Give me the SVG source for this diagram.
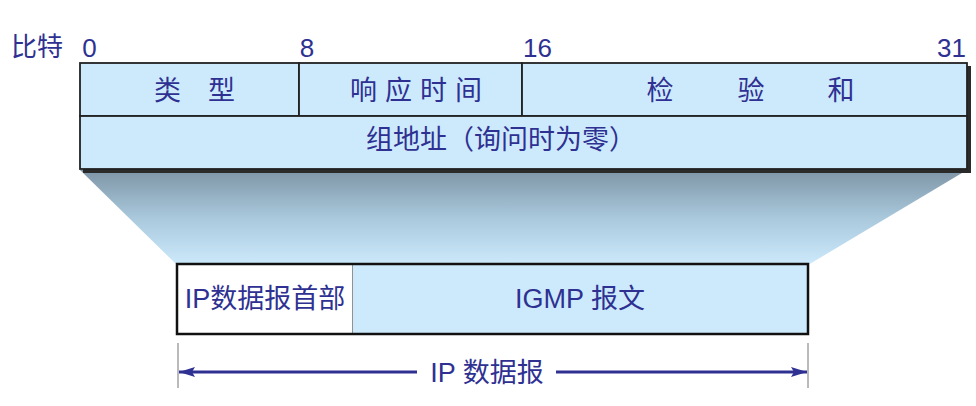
<svg xmlns="http://www.w3.org/2000/svg" width="976" height="406" viewBox="0 0 976 406">
<defs>
<linearGradient id="fan" x1="0" y1="0" x2="0" y2="1">
<stop offset="0" stop-color="#7e95a6"/>
<stop offset="0.5" stop-color="#a9c8dc"/>
<stop offset="1" stop-color="#cdeafc"/>
</linearGradient>
<marker id="ah" viewBox="0 0 16 10" refX="16" refY="5" markerWidth="16" markerHeight="10" orient="auto-start-reverse" markerUnits="userSpaceOnUse">
<path d="M0,0 L16,5 L0,10 L3,5 Z" fill="#2e3192"/>
</marker>
<style>
text{font-family:"Liberation Sans","Noto Sans CJK SC",sans-serif;fill:#2e3192;font-size:27px}
.n{font-size:26px}
.c{text-anchor:middle}
.fld{fill:#cdeafc;stroke:#222;stroke-width:1.8}
</style>
</defs>
<polygon points="80,170 967,170 808,265 177,265" fill="url(#fan)"/>
<g id="bits">
<text x="11" y="56" class="n">比特</text>
<text x="89.5" y="57" class="c n">0</text>
<text x="307" y="57" class="c n">8</text>
<text x="537.5" y="57" class="c n">16</text>
<text x="951.5" y="57" class="c n">31</text>
</g>
<rect x="83" y="66" width="888" height="107" fill="#2a2a2a"/>
<g id="type"><rect class="fld" x="80" y="63" width="219" height="53"/><text x="194.5" y="100" class="c">类　型</text></g>
<g id="resp"><rect class="fld" x="299" y="63" width="223" height="53"/><text x="420" y="100" class="c" letter-spacing="8">响应时间</text></g>
<g id="chk"><rect class="fld" x="522" y="63" width="445" height="53"/><text x="660" y="100" class="c">检</text><text x="751" y="100" class="c">验</text><text x="841" y="100" class="c">和</text></g>
<g id="grp"><rect class="fld" x="80" y="116" width="887" height="53"/><text x="501" y="149" class="c">组地址（询问时为零）</text></g>
<g id="iphdr"><rect x="177" y="264" width="176" height="70" fill="#fff" stroke="#222" stroke-width="1"/><text x="265" y="308" class="c">IP数据报首部</text></g>
<g id="igmp"><rect x="353" y="264" width="455" height="70" fill="#cdeafc"/><text x="580" y="308" class="c">IGMP 报文</text></g>
<rect x="177" y="264" width="631" height="70" fill="none" stroke="#111" stroke-width="2.5"/>
<g id="connectors">
<line x1="178" y1="343" x2="178" y2="388" stroke="#777" stroke-width="1"/>
<line x1="808" y1="343" x2="808" y2="388" stroke="#777" stroke-width="1"/>
<line x1="417" y1="372" x2="179" y2="372" stroke="#2e3192" stroke-width="3" marker-end="url(#ah)"/>
<line x1="556" y1="372" x2="807" y2="372" stroke="#2e3192" stroke-width="3" marker-end="url(#ah)"/>
</g>
<text x="487" y="382" class="c">IP 数据报</text>
</svg>
